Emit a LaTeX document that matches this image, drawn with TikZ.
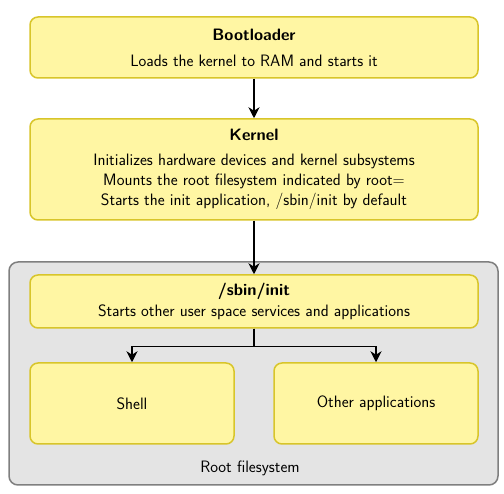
\documentclass[tikz,border=0pt]{standalone}
\usetikzlibrary{shapes}
\usetikzlibrary{arrows.meta}
\definecolor{boxfill}{HTML}{FFF6A3}
\definecolor{boxline}{HTML}{D8C52A}
\definecolor{fsfill}{HTML}{E4E4E4}
\definecolor{fsline}{HTML}{7F7F7F}
\tikzset{
	stagenode/.style = {
		align=center,
		inner sep=0pt,
		text centered,
		font=\sffamily\fontsize{16.5}{20}\selectfont
	},
	node_stage/.style = {
		stagenode,
		rectangle,
		rounded corners=8pt,
		draw=boxline,
		fill=boxfill,
		line width=1.5pt,
		minimum width=448pt
	},
	node_app/.style = {
		node_stage,
		minimum width=204pt,
		minimum height=81pt
	},
	node_fs/.style = {
		stagenode,
		rectangle,
		rounded corners=9pt,
		draw=fsline,
		fill=fsfill,
		line width=1.5pt,
		minimum width=489pt,
		minimum height=223pt
	},
	link/.style = {
		-{Stealth[length=11pt,width=11pt,inset=3.5pt]},
		line width=1.4pt,
		black
	}
}

\begin{document}
\begin{tikzpicture}[x=1pt,y=-1pt]
\useasboundingbox (0,0) rectangle (504,494);
% root filesystem frame
\node [node_fs] (rootfs) at (253.5,373.5) {};
\node [stagenode] (rootfs_label) at (250,468) {Root filesystem};
% boot stages
\node [node_stage, minimum height=61pt] (bootloader) at (254,47.5)
	{\textbf{Bootloader}\\[6pt] Loads the kernel to RAM and starts it};
\node [node_stage, minimum height=101pt] (kernel) at (254,169.5)
	{\textbf{Kernel}\\[5pt] Initializes hardware devices and kernel subsystems\\
	Mounts the root filesystem indicated by root=\\
	Starts the init application, /sbin/init by default};
\node [node_stage, minimum height=53pt] (init) at (254,301.5)
	{\textbf{/sbin/init}\\[1pt] Starts other user space services and applications};
\node [node_app] (shell) at (132,403.5) {Shell};
\node [node_app] (apps) at (376,403.5) {Other applications};
% arrows
\draw [link] (bootloader) -- (kernel);
\draw [link] (kernel) -- (init);
\draw [link] (init.south) -- ++(0,18) -| (shell.north);
\draw [link] (init.south) -- ++(0,18) -| (apps.north);
\end{tikzpicture}
\end{document}
